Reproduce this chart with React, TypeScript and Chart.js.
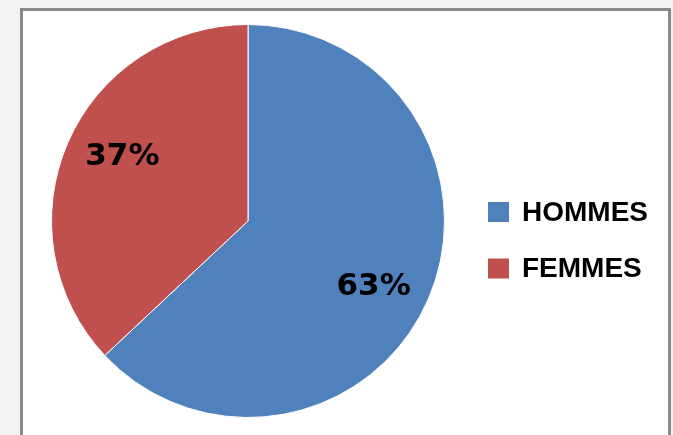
import React, { useEffect, useRef } from "react";
import { Chart, registerables } from "chart.js";

Chart.register(...registerables);

const categories = ["HOMMES", "FEMMES"];
const values = [63, 37];
const colors = ["#4F81BD", "#C0504D"];
const pctLabels = ["63%", "37%"];

const overlayPlugin = {
  id: "overlayLabels",
  afterDatasetsDraw(chart: any) {
    const ctx = chart.ctx;
    const meta = chart.getDatasetMeta(0);
    ctx.save();
    ctx.font = "bold 31px 'DejaVu Sans'";
    ctx.fillStyle = "#000";
    ctx.textAlign = "center";
    ctx.textBaseline = "middle";
    meta.data.forEach((arc: any, i: number) => {
      const p = arc.getProps(["x", "y", "startAngle", "endAngle", "outerRadius"], true);
      const mid = (p.startAngle + p.endAngle) / 2 + 0.07;
      const r = p.outerRadius * 0.72;
      ctx.fillText(pctLabels[i], p.x + Math.cos(mid) * r, p.y + Math.sin(mid) * r + 1);
    });

    const ca = chart.chartArea;
    const cy = (ca.top + ca.bottom) / 2;
    ctx.font = "bold 28px 'Liberation Sans'";
    ctx.textAlign = "left";
    categories.forEach((c, i) => {
      const y = cy - 9 + i * 56.5;
      const x = ca.right + 43;
      ctx.fillStyle = colors[i];
      ctx.fillRect(x, y - 10, 21, 20);
      ctx.fillStyle = "#000";
      ctx.fillText(c, x + 34, y + 1);
    });
    ctx.restore();
  },
};

export default function App() {
  const ref = useRef<HTMLCanvasElement | null>(null);
  useEffect(() => {
    if (!ref.current) return;
    const chart = new Chart(ref.current, {
      type: "pie",
      data: {
        labels: categories,
        datasets: [
          {
            data: values,
            backgroundColor: colors,
            borderColor: "#ffffff",
            borderWidth: 1,
          },
        ],
      },
      options: {
        responsive: false,
        animation: false,
        layout: { padding: { left: 51, top: 24, right: 228, bottom: 17 } },
        plugins: {
          legend: { display: false },
          tooltip: { enabled: false },
        },
      },
      plugins: [overlayPlugin],
    });
    return () => chart.destroy();
  }, []);

  return (
    <div
      style={{
        position: "fixed",
        left: 0,
        top: 0,
        width: 673,
        height: 435,
        background: "#f2f2f2",
        overflow: "hidden",
      }}
    >
      <div
        style={{
          position: "absolute",
          left: 20,
          top: 8,
          width: 645,
          height: 440,
          background: "#ffffff",
          borderLeft: "3px solid #8a8a8a",
          borderTop: "3px solid #8a8a8a",
          borderRight: "3px solid #8a8a8a",
        }}
      />
      <canvas
        ref={ref}
        width={673}
        height={435}
        style={{ position: "absolute", left: 0, top: 0, width: 673, height: 435 }}
      />
    </div>
  );
}
